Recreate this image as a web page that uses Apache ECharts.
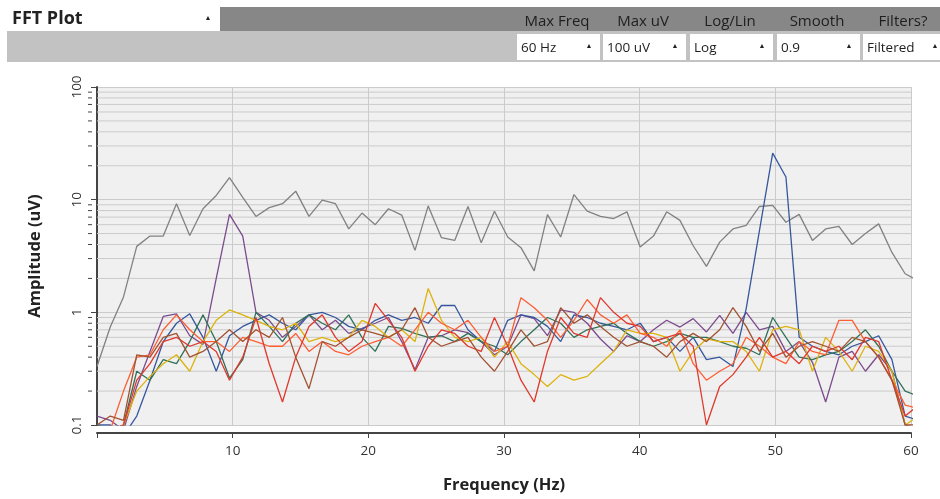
<!DOCTYPE html>
<html>
<head>
<meta charset="utf-8">
<script src="https://cdn.jsdelivr.net/npm/echarts@6/dist/echarts.min.js"></script>
<style>
  html, body { margin: 0; padding: 0; background: #fff; }
  #chart { width: 940px; height: 499px; }
</style>
</head>
<body>
<div id="chart"></div>
<script>
// FFT bins: 250 Hz sample rate, 256 point fft -> bin k sits at k * 250 / 256 Hz
const BIN_HZ = 250 / 256
const X_TICKS = [10, 20, 30, 40, 50, 60]
const Y_TICKS = [0.1, 1, 10, 100]
const MINOR_TICKS = [0.2, 0.3, 0.4, 0.5, 0.6, 0.7, 0.8, 0.9,
    2, 3, 4, 5, 6, 7, 8, 9, 20, 30, 40, 50, 60, 70, 80, 90]

const CHANNEL_COLORS = ['#818181', '#7c4b8d', '#36579e', '#317159', '#ddb20d', '#fd5e34', '#e0382d', '#a25231']

// amplitude (uV) per bin, one array per channel
const CH1 = [0.33, 0.74, 1.37, 3.85, 4.75, 4.75, 9.2, 4.8, 8.3, 10.9, 15.7, 10.5, 7.1, 8.5, 9.2, 11.9, 7.1, 9.9, 9.2, 5.5,
    7.6, 6.0, 8.3, 7.3, 3.55, 8.8, 4.6, 4.35, 8.7, 4.15, 7.9, 4.66, 3.75, 2.33, 7.36, 4.66, 11.1, 7.9, 7.1, 6.8,
    7.8, 3.8, 4.75, 7.8, 6.55, 3.9, 2.56, 4.2, 5.5, 5.9, 8.7, 8.9, 6.3, 7.4, 4.35, 5.5, 5.8, 4.0, 5.0, 6.1,
    3.4, 2.2, 1.9]
const CH2 = [0.12, 0.11, 0.09, 0.22, 0.45, 0.92, 0.97, 0.62, 0.52, 2.0, 7.4, 4.75, 1.0, 0.85, 0.6, 0.75, 0.95, 0.7, 0.85, 0.65,
    0.72, 0.8, 0.9, 0.55, 0.31, 0.6, 0.62, 0.7, 0.66, 0.55, 0.42, 0.5, 0.95, 0.88, 0.62, 1.05, 1.0, 0.8, 0.58, 0.45,
    0.62, 0.55, 0.7, 0.85, 0.74, 0.88, 0.67, 0.94, 0.65, 1.0, 0.7, 0.75, 0.45, 0.55, 0.36, 0.16, 0.4, 0.45, 0.3, 0.42,
    0.3, 0.1, 0.09]
const CH3 = [0.1, 0.1, 0.08, 0.12, 0.25, 0.55, 0.8, 0.97, 0.6, 0.3, 0.62, 0.75, 0.85, 0.95, 0.8, 0.7, 0.95, 1.0, 0.9, 0.75,
    0.7, 0.85, 0.95, 0.85, 0.9, 0.8, 1.15, 1.15, 0.7, 0.55, 0.45, 0.85, 0.95, 0.9, 0.75, 0.55, 0.95, 0.9, 0.8, 0.75,
    0.7, 0.8, 0.55, 0.6, 0.45, 0.6, 0.38, 0.4, 0.33, 1.08, 5.3, 25.9, 15.9, 0.6, 0.5, 0.45, 0.42, 0.5, 0.55, 0.62,
    0.38, 0.12, 0.11]
const CH4 = [0.1, 0.09, 0.1, 0.3, 0.25, 0.38, 0.35, 0.55, 0.95, 0.55, 0.26, 0.38, 1.0, 0.75, 0.55, 0.8, 0.95, 0.8, 0.7, 0.95,
    0.6, 0.45, 0.75, 0.72, 0.65, 0.6, 0.62, 0.55, 0.65, 0.55, 0.5, 0.42, 0.55, 0.7, 0.9, 0.8, 0.6, 0.7, 0.75, 0.8,
    0.65, 0.55, 0.5, 0.55, 0.65, 0.6, 0.6, 0.55, 0.5, 0.48, 0.42, 0.9, 0.6, 0.4, 0.38, 0.42, 0.45, 0.55, 0.7, 0.5,
    0.3, 0.2, 0.18]
const CH5 = [0.09, 0.08, 0.1, 0.2, 0.27, 0.35, 0.42, 0.3, 0.55, 0.85, 1.05, 0.95, 0.85, 0.75, 0.7, 0.8, 0.55, 0.6, 0.55, 0.6,
    0.85, 0.75, 0.6, 0.7, 0.55, 1.63, 0.85, 0.6, 0.55, 0.6, 0.4, 0.55, 0.35, 0.28, 0.22, 0.28, 0.25, 0.27, 0.35, 0.45,
    0.7, 0.65, 0.65, 0.6, 0.3, 0.45, 0.58, 0.55, 0.55, 0.45, 0.3, 0.7, 0.75, 0.7, 0.3, 0.6, 0.45, 0.3, 0.5, 0.45,
    0.3, 0.1, 0.12]
const CH6 = [0.09, 0.09, 0.2, 0.4, 0.42, 0.7, 0.95, 0.7, 0.55, 0.55, 0.45, 0.6, 0.55, 0.5, 0.5, 0.65, 0.45, 0.55, 0.45, 0.42,
    0.5, 0.55, 0.6, 0.5, 0.7, 1.0, 0.8, 0.7, 0.85, 0.6, 0.45, 0.5, 1.35, 1.1, 0.85, 0.6, 0.85, 1.3, 0.95, 0.8,
    0.95, 0.65, 0.6, 0.5, 0.7, 0.35, 0.25, 0.3, 0.35, 0.6, 0.5, 0.4, 0.35, 0.55, 0.45, 0.42, 0.85, 0.85, 0.55, 0.4,
    0.25, 0.15, 0.14]
const CH7 = [0.08, 0.09, 0.1, 0.25, 0.35, 0.55, 0.6, 0.5, 0.55, 0.45, 0.25, 0.4, 0.9, 0.35, 0.16, 0.4, 0.75, 0.95, 0.6, 0.45,
    0.55, 1.2, 0.85, 0.6, 0.3, 0.5, 0.7, 0.65, 0.5, 0.45, 0.9, 0.5, 0.25, 0.16, 0.45, 0.9, 0.65, 0.6, 1.35, 1.0,
    0.8, 0.75, 0.55, 0.6, 0.65, 0.5, 0.1, 0.22, 0.28, 0.4, 0.6, 0.4, 0.45, 0.35, 0.5, 0.45, 0.5, 0.38, 0.6, 0.55,
    0.25, 0.12, 0.15]
const CH8 = [0.1, 0.12, 0.11, 0.42, 0.4, 0.6, 0.65, 0.4, 0.45, 0.55, 0.7, 0.55, 0.7, 0.6, 0.9, 0.4, 0.21, 0.55, 0.5, 0.6,
    0.7, 0.65, 0.6, 0.7, 1.1, 0.6, 0.5, 0.55, 0.6, 0.4, 0.3, 0.45, 0.7, 0.5, 0.55, 1.1, 0.8, 0.95, 0.75, 0.6,
    0.5, 0.55, 0.5, 0.4, 0.55, 0.65, 0.55, 0.7, 1.1, 0.75, 0.45, 0.65, 0.4, 0.5, 0.55, 0.5, 0.45, 0.6, 0.55, 0.4,
    0.25, 0.1, 0.1]
const CHANNELS = [CH1, CH2, CH3, CH4, CH5, CH6, CH7, CH8]

const DROPDOWNS = [
    { label: 'Max Freq', value: '60 Hz', x: 517, w: 85 },
    { label: 'Max uV', value: '100 uV', x: 603, w: 85 },
    { label: 'Log/Lin', value: 'Log', x: 690, w: 85 },
    { label: 'Smooth', value: '0.9', x: 777, w: 85 },
    { label: 'Filters?', value: 'Filtered', x: 863, w: 85 }
]

const FONT = '"Open Sans", "Noto Sans", sans-serif'
const chart = echarts.init(document.getElementById('chart'))

// header bar, drawn as graphic elements
const header = [
    { type: 'rect', shape: { x: 220, y: 7, width: 720, height: 24 }, style: { fill: '#878787' } },
    { type: 'rect', shape: { x: 7, y: 31, width: 933, height: 31 }, style: { fill: '#c2c2c2' } },
    { type: 'rect', shape: { x: 7, y: 7, width: 213, height: 24 }, style: { fill: '#fff' } },
    { type: 'text', x: 12, y: 19, style: { text: 'FFT Plot', font: 'bold 18px ' + FONT, fill: '#222', verticalAlign: 'middle' } },
    { type: 'text', x: 208, y: 18, style: { text: '▲', font: '7px ' + FONT, fill: '#222', align: 'center', verticalAlign: 'middle' } }
]
DROPDOWNS.forEach(d => {
    header.push({ type: 'text', x: d.x + 40, y: 22, style: { text: d.label, font: '15px ' + FONT, fill: '#1e1e1e', align: 'center', verticalAlign: 'middle' } })
    header.push({ type: 'rect', shape: { x: d.x, y: 34, width: d.w - 2, height: 26 }, style: { fill: '#fff' } })
    header.push({ type: 'text', x: d.x + 4, y: 48, style: { text: d.value, font: '13.5px ' + FONT, fill: '#1e1e1e', verticalAlign: 'middle' } })
    header.push({ type: 'text', x: d.x + d.w - 13, y: 46, style: { text: '▲', font: '7px ' + FONT, fill: '#222', align: 'center', verticalAlign: 'middle' } })
})

const series = CHANNELS.map((vals, c) => ({
    type: 'line',
    data: vals.map((v, k) => [k * BIN_HZ, v]),
    symbol: 'none',
    silent: true,
    z: 3,
    lineStyle: { color: CHANNEL_COLORS[c], width: 1.3 }
}))

// minor log gridlines + small ticks on the y axis
series.unshift({
    type: 'custom',
    silent: true,
    clip: false,
    z: 1,
    data: MINOR_TICKS.map(v => [0, v]),
    encode: { x: 0, y: 1 },
    renderItem: (params, api) => {
        const a = api.coord([0, api.value(1)])
        const b = api.coord([60, api.value(1)])
        return {
            type: 'group',
            children: [{
                type: 'line',
                shape: { x1: a[0], y1: a[1], x2: b[0], y2: b[1] },
                style: { stroke: '#cbcbcb', lineWidth: 1 }
            }, {
                type: 'line',
                shape: { x1: a[0] - 9, y1: a[1], x2: a[0] - 5, y2: a[1] },
                style: { stroke: '#444', lineWidth: 1 }
            }]
        }
    }
})

const option = {
    backgroundColor: '#fff',
    animation: false,
    graphic: header,
    grid: {
        left: 97,
        right: 29,
        top: 87,
        bottom: 74,
        show: true,
        backgroundColor: '#f0f0f0',
        borderWidth: 0
    },
    xAxis: {
        type: 'value',
        min: 0,
        max: 60,
        interval: 10,
        offset: 8,
        name: 'Frequency (Hz)',
        nameLocation: 'middle',
        nameGap: 44,
        nameTextStyle: { fontFamily: FONT, fontSize: 16.5, fontWeight: 'bold', color: '#222' },
        axisLine: { onZero: false, lineStyle: { color: '#444', width: 2 } },
        axisTick: { length: 5, lineStyle: { color: '#444' } },
        axisLabel: {
            fontFamily: FONT, fontSize: 13.5, color: '#333', margin: 11,
            formatter: v => X_TICKS.includes(v) ? String(v) : ''
        },
        splitLine: { show: true, lineStyle: { color: '#cbcbcb', width: 1 } }
    },
    yAxis: {
        type: 'log',
        logBase: 10,
        min: Y_TICKS[0],
        max: Y_TICKS[Y_TICKS.length - 1],
        offset: 6,
        name: 'Amplitude (uV)',
        nameLocation: 'middle',
        nameGap: 47,
        nameTextStyle: { fontFamily: FONT, fontSize: 16.5, fontWeight: 'bold', color: '#222' },
        axisLine: { show: true, lineStyle: { color: '#444', width: 2 } },
        axisTick: { show: true, length: 6, lineStyle: { color: '#444' } },
        axisLabel: { fontFamily: FONT, fontSize: 13.5, color: '#333', rotate: 90, margin: 7 },
        splitLine: { show: true, lineStyle: { color: '#cbcbcb', width: 1 } }
    },
    series: series
}
chart.setOption(option)
</script>
</body>
</html>
